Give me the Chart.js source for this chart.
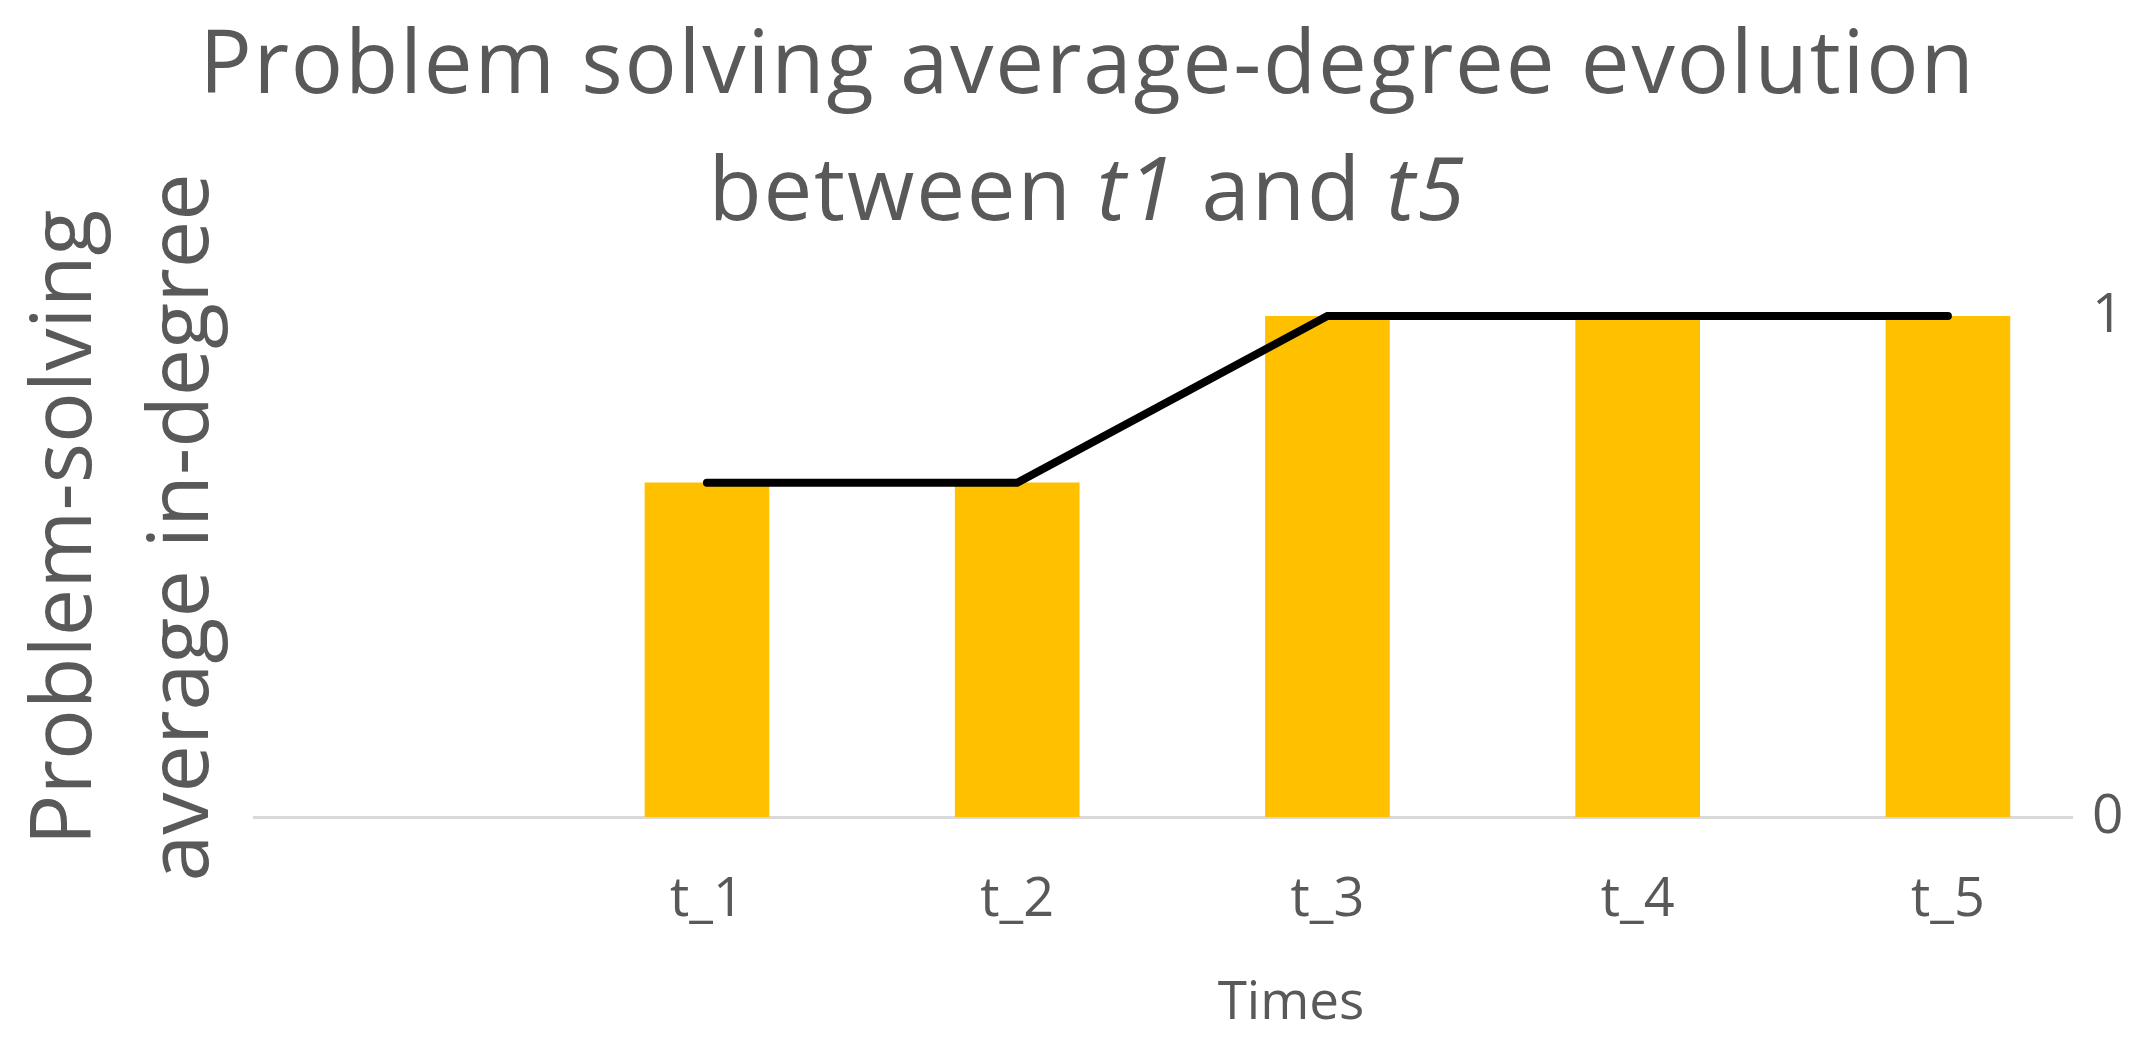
<!DOCTYPE html>
<html>
<head>
<meta charset="utf-8">
<script src="https://cdn.jsdelivr.net/npm/chart.js@4.4.1/dist/chart.umd.min.js"></script>
<style>
  body { margin: 0; background: #fff; }
  .wrap { position: relative; width: 2151px; height: 1050px; }
  .title {
    position: absolute; left: 12px; top: -4px; width: 2151px;
    text-align: center; font-family: "Open Sans", sans-serif; font-weight: 400;
    font-size: 87px; line-height: 127px; letter-spacing: 1.8px; color: #595959;
  }
</style>
</head>
<body>
<div class="wrap">
  <canvas id="chart"></canvas>
  <div class="title">Problem solving average-degree evolution<br>between <i>t1</i> and <i>t5</i></div>
</div>
<script>
// chart data
const timeLabels = ["t_1", "t_2", "t_3", "t_4", "t_5"];
const barValues = [0.667, 0.667, 1, 1, 1];
const lineValues = [0.667, 0.667, 1, 1, 1];
const yTickValues = [0, 1];

const positions = timeLabels.map((_, i) => i + 1); // category slots on the x axis
const grey = "#595959";
const font = "Open Sans";

// axis titles in the original sit off-centre, nudge them after layout
const shiftTitles = {
  id: "shiftTitles",
  afterLayout(chart) {
    const xt = chart.scales.xTitle;
    xt.left += 128;
    xt.right += 128;
    const yt = chart.scales.yTitle;
    yt.top -= 39;
    yt.bottom -= 39;
  },
};

const hidden = {
  ticks: { display: false },
  grid: { display: false, drawTicks: false },
  border: { display: false },
};

document.fonts.load('54px "Open Sans"').then(() => {
  const ctx = document.getElementById("chart").getContext("2d");
  new Chart(ctx, {
    type: "bar",
    data: {
      datasets: [
        {
          type: "line",
          data: positions.map((x, i) => ({ x, y: lineValues[i] })),
          borderColor: "#000000",
          borderWidth: 8,
          borderCapStyle: "round",
          pointRadius: 0,
          tension: 0,
          clip: false,
          order: 0,
        },
        {
          data: positions.map((x, i) => ({ x, y: barValues[i] })),
          backgroundColor: "#FFC000",
          barThickness: 124,
          order: 1,
        },
      ],
    },
    options: {
      responsive: true,
      maintainAspectRatio: false,
      animation: false,
      layout: { padding: { top: 316, left: 8, right: 0, bottom: 14 } },
      plugins: { legend: { display: false }, tooltip: { enabled: false } },
      scales: {
        x: {
          type: "linear",
          offset: false,
          min: -0.46,
          max: 5.4,
          afterBuildTicks: (scale) => {
            scale.ticks = positions.map((v) => ({ value: v }));
          },
          afterFit: (scale) => { scale.height = 155; },
          ticks: {
            callback: (v) => timeLabels[v - 1] ?? "",
            font: { family: font, size: 54 },
            color: grey,
            padding: 51,
            maxRotation: 0,
            autoSkip: false,
          },
          grid: { display: false, drawTicks: false },
          border: { color: "#d9d9d9", width: 3 },
        },
        xTitle: {
          type: "linear",
          position: "bottom",
          min: 0,
          max: 1,
          afterFit: (scale) => { scale.height = 64; },
          ...hidden,
          title: {
            display: true,
            text: "Times",
            font: { family: font, size: 53 },
            color: grey,
            padding: 0,
          },
        },
        y: {
          position: "right",
          min: 0,
          max: 1,
          afterBuildTicks: (scale) => {
            scale.ticks = yTickValues.map((v) => ({ value: v }));
          },
          afterFit: (scale) => { scale.width = 79; },
          ticks: {
            font: { family: font, size: 55 },
            color: grey,
            padding: 20,
          },
          grid: { display: false, drawTicks: false },
          border: { display: false },
        },
        yTitle: {
          position: "left",
          min: 0,
          max: 1,
          afterFit: (scale) => { scale.width = 246; },
          ...hidden,
          title: {
            display: true,
            text: ["Problem-solving", "average in-degree"],
            font: { family: font, size: 84.5, lineHeight: 1.385 },
            color: grey,
            padding: { top: 0, bottom: 12 },
          },
        },
      },
    },
    plugins: [shiftTitles],
  });
});
</script>
</body>
</html>
